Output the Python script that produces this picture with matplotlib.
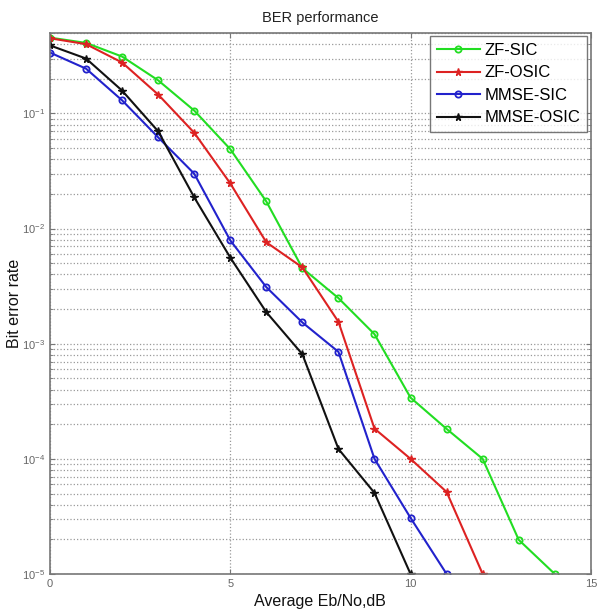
import matplotlib
matplotlib.use("Agg")
import matplotlib.pyplot as plt
from matplotlib.ticker import LogLocator, FixedLocator

plt.rcParams['font.family'] = ['Liberation Sans', 'DejaVu Sans']

snr_zf_sic = [0, 1, 2, 3, 4, 5, 6, 7, 8, 9, 10, 11, 12, 13, 14]
ber_zf_sic = [0.456, 0.41, 0.312, 0.194, 0.106, 0.049, 0.0172, 0.00453, 0.00249, 0.00121,
              0.00034, 0.000182, 0.0001, 1.98e-5, 1e-5]

snr_zf_osic = [0, 1, 2, 3, 4, 5, 6, 7, 8, 9, 10, 11, 12]
ber_zf_osic = [0.45, 0.40, 0.277, 0.146, 0.068, 0.0247, 0.0076, 0.0046, 0.00155, 0.000183,
               0.0001, 5.16e-5, 1e-5]

snr_mmse_sic = [0, 1, 2, 3, 4, 5, 6, 7, 8, 9, 10, 11]
ber_mmse_sic = [0.338, 0.245, 0.13, 0.062, 0.030, 0.0079, 0.0031, 0.00153, 0.00085, 0.0001,
                3.07e-5, 1e-5]

snr_mmse_osic = [0, 1, 2, 3, 4, 5, 6, 7, 8, 9, 10]
ber_mmse_osic = [0.39, 0.30, 0.158, 0.07, 0.0187, 0.0056, 0.00188, 0.00081, 0.000122, 5.06e-5, 1e-5]

x_ticks = [0, 5, 10, 15]

fig = plt.figure(figsize=(5.98, 6.11), dpi=100)
ax = fig.add_axes([0.0836, 0.0606, 0.9044, 0.8854])

ax.semilogy(snr_zf_sic, ber_zf_sic, '-o', color='#22dd22', lw=1.5, ms=4.5, mfc='none', mew=1.3, label='ZF-SIC')
ax.semilogy(snr_zf_osic, ber_zf_osic, '-*', color='#dd2222', lw=1.5, ms=5.5, mew=1.0, label='ZF-OSIC')
ax.semilogy(snr_mmse_sic, ber_mmse_sic, '-o', color='#2222cc', lw=1.5, ms=4.5, mfc='none', mew=1.3, label='MMSE-SIC')
ax.semilogy(snr_mmse_osic, ber_mmse_osic, '-*', color='#111111', lw=1.5, ms=5.5, mew=1.0, label='MMSE-OSIC')

ax.set_xlim(0, 15)
ax.set_ylim(1e-5, 0.5)
ax.xaxis.set_major_locator(FixedLocator(x_ticks))
ax.yaxis.set_major_locator(LogLocator(base=10, numticks=10))
ax.yaxis.set_minor_locator(LogLocator(base=10, subs=range(2, 10), numticks=20))

ax.grid(True, which='major', linestyle=':', color='#999999', lw=0.9)
ax.grid(True, which='minor', axis='y', linestyle=':', color='#999999', lw=0.9)

for s in ax.spines.values():
    s.set_color('#777777')
    s.set_linewidth(1.2)
ax.tick_params(which='both', direction='in', colors='#777777', labelsize=8, labelcolor='#666666')
ax.tick_params(which='both', top=True, right=True)

ax.set_title('BER performance', fontsize=10.5, color='#222222', pad=8)
ax.set_xlabel('Average Eb/No,dB', fontsize=11.5, color='#111111', labelpad=4)
ax.set_ylabel('Bit error rate', fontsize=11.5, color='#111111')
ax.yaxis.set_label_coords(-0.052, 0.5)

leg = ax.legend(loc='upper right', fontsize=12, frameon=True, fancybox=False,
                edgecolor='#555555', borderaxespad=0.2, handlelength=2.6,
                handletextpad=0.3, labelspacing=0.45, borderpad=0.4)
leg.get_frame().set_linewidth(1.0)

fig.savefig('out.png', dpi=100)
